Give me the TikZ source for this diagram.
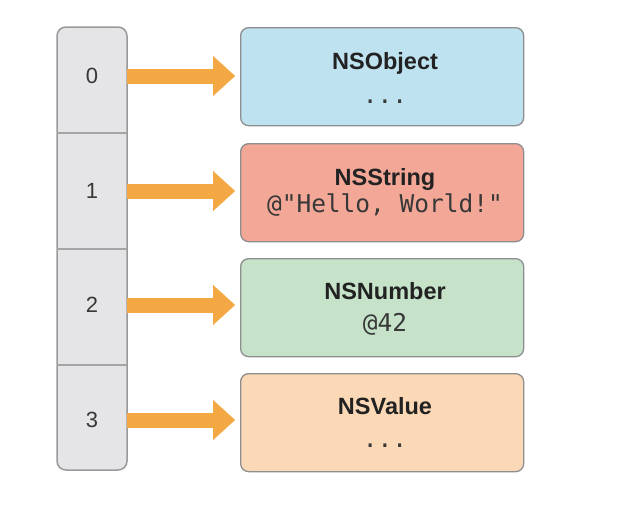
\documentclass[tikz,border=0pt]{standalone}
\usepackage{fontspec}
\setmainfont{Liberation Sans}
\newfontfamily\codefont{DejaVu Sans Mono}
\usetikzlibrary{arrows.meta}
\definecolor{boxline}{HTML}{8E8E8E}
\definecolor{colfill}{HTML}{E5E5E7}
\definecolor{arrowc}{HTML}{F4A843}
\definecolor{cblue}{HTML}{BEE2F0}
\definecolor{cred}{HTML}{F2A797}
\definecolor{cgreen}{HTML}{C6E3CA}
\definecolor{cpeach}{HTML}{FCD9B6}
\definecolor{txt}{HTML}{222222}
\begin{document}
\begin{tikzpicture}[x=1pt,y=-1pt,
  objbox/.style={draw=boxline, line width=1.3pt, rounded corners=8pt,
    minimum width=283pt, minimum height=98pt, inner sep=0pt, anchor=north west},
  colbox/.style={draw=boxline!90, fill=colfill, line width=1.5pt, rounded corners=9pt},
  divider/.style={draw=boxline!80, line width=1.5pt},
  title/.style={font=\fontsize{23.5}{26}\selectfont\bfseries, anchor=base, text=txt, inner sep=0pt},
  code/.style={font=\codefont\fontsize{24.5}{26}\selectfont, anchor=base, text=txt!90, inner sep=0pt},
  idx/.style={font=\fontsize{22}{24}\selectfont, text=txt!90, minimum width=70pt, inner sep=0pt},
  ptr/.style={draw=arrowc, line width=15pt,
    -{Triangle[length=22pt,width=40pt,line width=0.1pt]}, shorten >=5pt}]
\useasboundingbox (0,0) rectangle (620,512);

% index column
\draw[colbox] (57,27) rectangle (127,470);
\draw[divider] (57,133) -- (127,133);
\draw[divider] (57,249) -- (127,249);
\draw[divider] (57,365) -- (127,365);

% object boxes
\node[objbox, fill=cblue]  (b0) at (240,27)  {};
\node[objbox, fill=cred]   (b1) at (240,143) {};
\node[objbox, fill=cgreen] (b2) at (240,258) {};
\node[objbox, fill=cpeach] (b3) at (240,373) {};

% index numbers
\node[idx] (c0) at (92,76)  {0};
\node[idx] (c1) at (92,191) {1};
\node[idx] (c2) at (92,305) {2};
\node[idx] (c3) at (92,420) {3};

% texts
\node[title] (t0) at (385,69)  {NSObject};
\node[code]  (s0) at (385,103) {...};
\node[title] (t1) at (385,185) {NSString};
\node[code]  (s1) at (385,212) {@"Hello, World!"};
\node[title] (t2) at (385,299) {NSNumber};
\node[code]  (s2) at (385,331) {@42};
\node[title] (t3) at (385,414) {NSValue};
\node[code]  (s3) at (385,447) {...};

% pointers
\draw[ptr] (c0.east) -- (c0.east -| b0.west);
\draw[ptr] (c1.east) -- (c1.east -| b1.west);
\draw[ptr] (c2.east) -- (c2.east -| b2.west);
\draw[ptr] (c3.east) -- (c3.east -| b3.west);
\end{tikzpicture}
\end{document}
